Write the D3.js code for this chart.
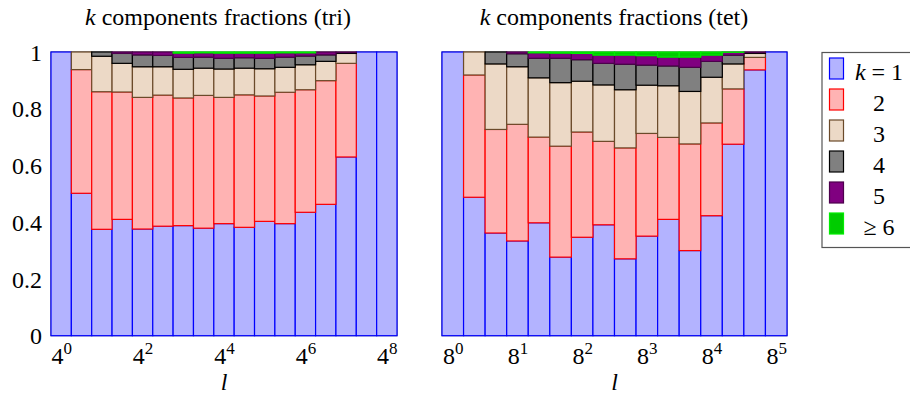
<!DOCTYPE html>
<html><head><meta charset="utf-8">
<script src="https://cdn.jsdelivr.net/npm/d3@7/dist/d3.min.js"></script>
<style>
body{margin:0;background:#fff}
</style>
</head><body>
<svg id="c" width="910" height="405"></svg>
<script>
// ---- data ----
const triL = [1, 2, 4, 8, 16, 32, 64, 128, 256, 512, 1024, 2048, 4096, 8192, 16384, 32768, 65536];
const tetL = [1, 2, 4, 8, 16, 32, 64, 128, 256, 512, 1024, 2048, 4096, 8192, 16384, 32768];
const kKeys = ["k1", "k2", "k3", "k4", "k5", "k6"];
const kLegend = ["1", "2", "3", "4", "5", "6"];

const tri_k1 = [1, 0.502, 0.375, 0.410, 0.376, 0.386, 0.388, 0.379, 0.395, 0.382, 0.403, 0.395, 0.435, 0.463, 0.630, 1, 1];
const tri_k2 = [0, 0.436, 0.485, 0.449, 0.464, 0.462, 0.450, 0.468, 0.445, 0.467, 0.442, 0.463, 0.432, 0.436, 0.330, 0, 0];
const tri_k3 = [0, 0.062, 0.125, 0.101, 0.108, 0.100, 0.101, 0.096, 0.100, 0.094, 0.096, 0.088, 0.088, 0.068, 0.035, 0, 0];
const tri_k4 = [0, 0, 0.015, 0.035, 0.042, 0.040, 0.042, 0.039, 0.038, 0.037, 0.037, 0.036, 0.031, 0.023, 0.003, 0, 0];
const tri_k5 = [0, 0, 0, 0.005, 0.010, 0.012, 0.015, 0.015, 0.018, 0.016, 0.018, 0.015, 0.011, 0.010, 0.002, 0, 0];
const tri_k6 = [0, 0, 0, 0, 0, 0, 0.004, 0.003, 0.004, 0.004, 0.004, 0.003, 0.003, 0, 0, 0, 0];

const tet_k1 = [1, 0.488, 0.362, 0.334, 0.398, 0.277, 0.347, 0.391, 0.271, 0.351, 0.410, 0.300, 0.423, 0.675, 0.937, 1];
const tet_k2 = [0, 0.431, 0.365, 0.411, 0.302, 0.391, 0.371, 0.294, 0.391, 0.362, 0.289, 0.376, 0.327, 0.195, 0.044, 0];
const tet_k3 = [0, 0.081, 0.231, 0.203, 0.209, 0.224, 0.179, 0.199, 0.205, 0.170, 0.182, 0.185, 0.161, 0.088, 0.014, 0];
const tet_k4 = [0, 0, 0.042, 0.046, 0.069, 0.086, 0.076, 0.076, 0.090, 0.071, 0.070, 0.085, 0.056, 0.031, 0.003, 0];
const tet_k5 = [0, 0, 0, 0.006, 0.019, 0.018, 0.022, 0.029, 0.032, 0.033, 0.031, 0.036, 0.022, 0.010, 0.002, 0];
const tet_k6 = [0, 0, 0, 0, 0.003, 0.004, 0.005, 0.011, 0.011, 0.013, 0.018, 0.018, 0.011, 0.001, 0, 0];

const triTickVals = [1, 16, 256, 4096, 65536];
const triTickBase = "4";
const triTickExp = ["0", "2", "4", "6", "8"];
const tetTickVals = [1, 8, 64, 512, 4096, 32768];
const tetTickBase = "8";
const tetTickExp = ["0", "1", "2", "3", "4", "5"];
const yTicks = [0, 0.2, 0.4, 0.6, 0.8, 1];
const yTickLabels = ["0", "0.2", "0.4", "0.6", "0.8", "1"];

// ---- styles ----
const FONT = "'Liberation Serif', 'Times New Roman', 'DejaVu Serif', 'Noto Serif', serif";
const fills   = ["#b3b3ff", "#ffb3b3", "#ecd9c6", "#808080", "#800080", "#00cc00"];
const strokes = ["#0000ff", "#ff0000", "#6b4a2a", "#000000", "#4d004d", "#00ee00"];

const svg = d3.select("#c");
const yTop = 52, yBot = 335.7;
const y = d3.scaleLinear().domain([0, 1]).range([yBot, yTop]);

function table(L, arrs) {
  return L.map((l, i) => {
    const o = {l};
    kKeys.forEach((k, j) => o[k] = arrs[j][i]);
    return o;
  });
}

function txt(sel) {
  return sel.attr("font-family", FONT).attr("fill", "#000");
}

function panel(opts) {
  const {L, arrs, x0, x1, title, titleX, tickVals, tickBase, tickExp, showY} = opts;
  const x = d3.scaleLog().base(2)
    .domain([L[0] / Math.SQRT2, L[L.length - 1] * Math.SQRT2])
    .range([x0, x1]);
  const g = svg.append("g");

  // frame
  g.append("rect").attr("x", x0).attr("y", yTop).attr("width", x1 - x0).attr("height", yBot - yTop)
    .attr("fill", "none").attr("stroke", "#333").attr("stroke-width", 1);

  const data = table(L, arrs);
  const stacked = d3.stack().keys(kKeys)(data);
  stacked.forEach((s, j) => {
    g.append("g").selectAll("rect").data(s.filter(d => d[1] - d[0] > 1e-9)).join("rect")
      .attr("x", d => x(d.data.l / Math.SQRT2))
      .attr("width", d => x(d.data.l * Math.SQRT2) - x(d.data.l / Math.SQRT2))
      .attr("y", d => y(d[1]))
      .attr("height", d => y(d[0]) - y(d[1]))
      .attr("fill", fills[j]).attr("stroke", strokes[j]).attr("stroke-width", 1.2);
  });

  // x axis
  const gx = g.append("g").attr("transform", `translate(0,${yBot})`)
    .call(d3.axisBottom(x).tickValues(tickVals).tickSize(0).tickPadding(0).tickFormat(() => ""));
  gx.select(".domain").remove();
  gx.attr("font-family", FONT).attr("font-size", 24);
  gx.selectAll(".tick text").each(function (d, i) {
    const t = d3.select(this);
    txt(t).attr("y", 28).attr("dy", null).attr("font-size", 24).text(null);
    t.append("tspan").text(tickBase);
    t.append("tspan").attr("dy", -10).attr("font-size", 17).text(tickExp[i]);
  });

  // y axis
  if (showY) {
    const gy = g.append("g").attr("transform", `translate(${x0},0)`)
      .call(d3.axisLeft(y).tickValues(yTicks).tickSize(0).tickPadding(9).tickFormat((d, i) => yTickLabels[i]));
    gy.select(".domain").remove();
    gy.attr("font-family", FONT).attr("font-size", 24);
    txt(gy.selectAll(".tick text")).attr("font-size", 24).attr("dy", "0.34em");
  }

  // title
  const tt = txt(svg.append("text")).attr("x", titleX).attr("y", 25).attr("text-anchor", "middle").attr("font-size", 24);
  tt.append("tspan").attr("font-style", "italic").text("k");
  tt.append("tspan").text(" components fractions (" + title + ")");

  // x label
  txt(svg.append("text")).attr("x", (x0 + x1) / 2).attr("y", 390).attr("text-anchor", "middle")
    .attr("font-size", 24).attr("font-style", "italic").text("l");
}

panel({L: triL, arrs: [tri_k1, tri_k2, tri_k3, tri_k4, tri_k5, tri_k6], x0: 51, x1: 397,
  title: "tri", titleX: 218, tickVals: triTickVals, tickBase: triTickBase, tickExp: triTickExp, showY: true});
panel({L: tetL, arrs: [tet_k1, tet_k2, tet_k3, tet_k4, tet_k5, tet_k6], x0: 442, x1: 787,
  title: "tet", titleX: 614, tickVals: tetTickVals, tickBase: tetTickBase, tickExp: tetTickExp, showY: false});

// legend
const lg = svg.append("g");
lg.append("rect").attr("x", 822).attr("y", 52.5).attr("width", 100).attr("height", 195)
  .attr("fill", "#fff").attr("stroke", "#555").attr("stroke-width", 1.2);
kLegend.forEach((lab, i) => {
  lg.append("rect").attr("x", 829.5).attr("y", 58 + 31 * i).attr("width", 14).attr("height", 21)
    .attr("fill", fills[i]).attr("stroke", strokes[i]).attr("stroke-width", 1.2);
  const t = txt(lg.append("text")).attr("x", 879).attr("y", 80 + 31 * i).attr("text-anchor", "middle").attr("font-size", 24);
  if (i === 0) {
    t.append("tspan").attr("font-style", "italic").text("k");
    t.append("tspan").text(" = " + lab);
  } else if (i === 5) {
    t.text("≥ " + lab);
  } else {
    t.text(lab);
  }
});
</script>
</body></html>
